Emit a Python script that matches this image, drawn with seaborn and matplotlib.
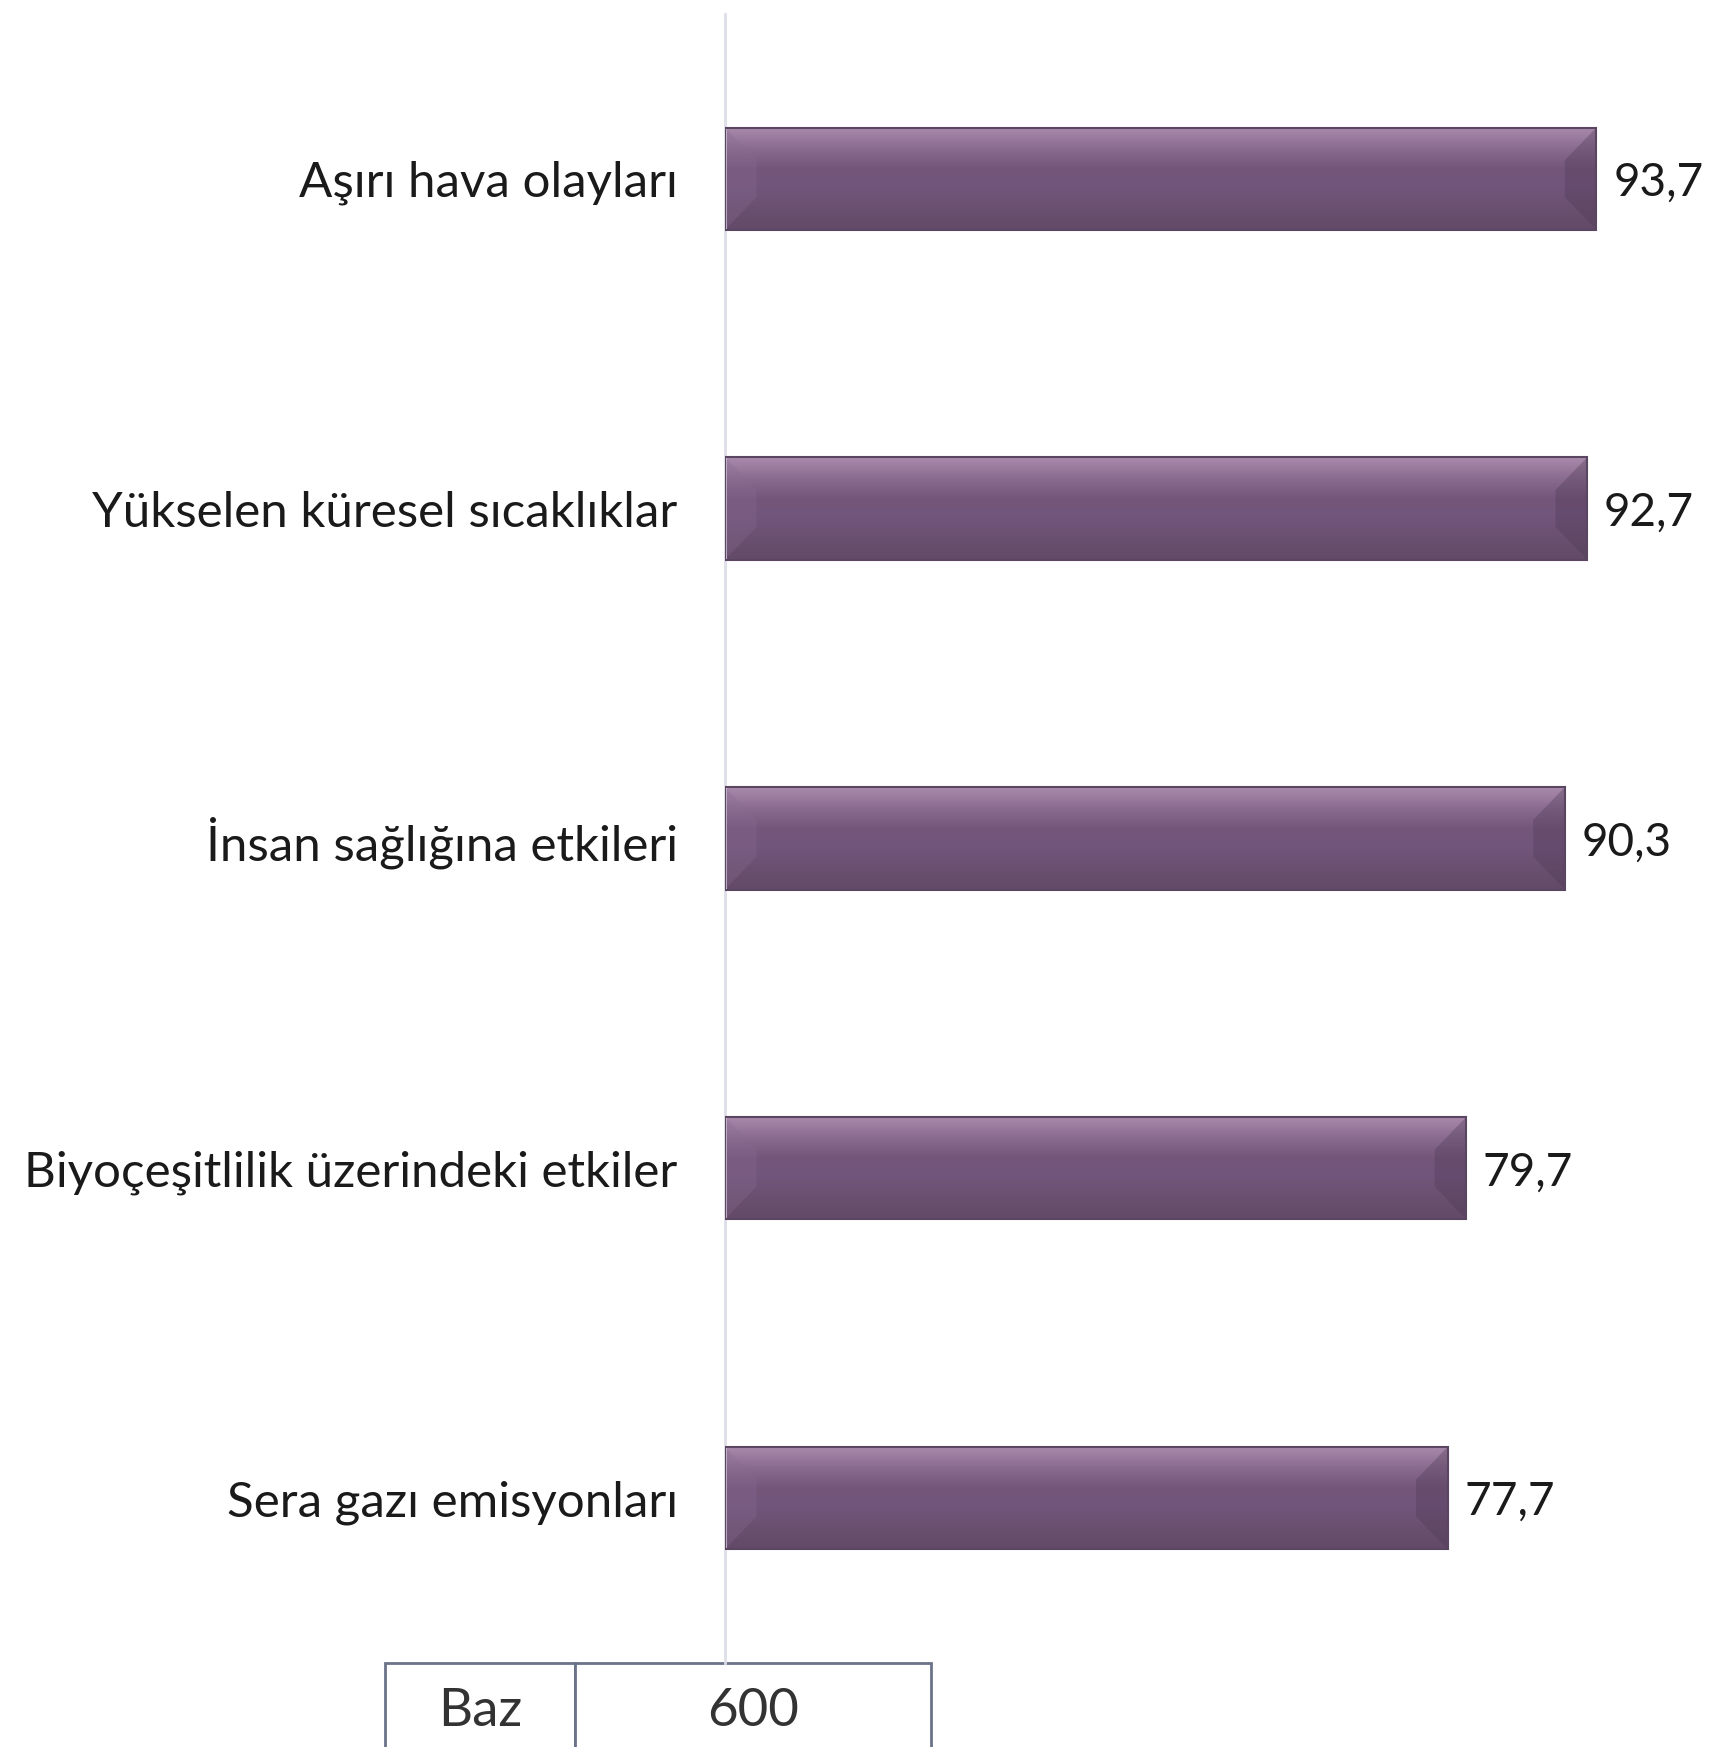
#!/usr/bin/env python3
""" Horizontal bar chart: perceived climate change effects """

import numpy as np
import pandas as pd
import matplotlib
matplotlib.use('Agg')
import matplotlib.pyplot as plt
from matplotlib.patches import Polygon
import seaborn as sns

categories = [
  'Aşırı hava olayları',
  'Yükselen küresel sıcaklıklar',
  'İnsan sağlığına etkileri',
  'Biyoçeşitlilik üzerindeki etkiler',
  'Sera gazı emisyonları',
]
values = [93.7, 92.7, 90.3, 79.7, 77.7]
base_label = 'Baz'
base_value = '600'

FONT = ['Lato', 'DejaVu Sans']
TEXT_COLOR = '#1a1a1a'
BAR_COLOR = '#72557a'
EDGE_COLOR = '#5a4660'


def shade_bars(ax, bars):
  """ Give each bar a vertical gradient and bevelled ends """
  grad = np.linspace(0, 1, 64).reshape(-1, 1)
  cmap = matplotlib.colors.LinearSegmentedColormap.from_list(
    'bar', ['#a98aad', '#8a6c90', '#74567b', '#72557a', '#6a5070', '#624a68'])
  for patch in bars:
    x0, y0 = patch.get_x(), patch.get_y()
    w, h = patch.get_width(), patch.get_height()
    im = ax.imshow(grad, cmap=cmap, aspect='auto', origin='upper',
                   extent=(x0, x0 + w, y0 + h, y0), zorder=2)
    im.set_clip_path(patch)
    # bevel size in data units (~ a third of the bar height in pixels)
    bx = 3.4
    by = h * 0.32
    left = Polygon([(x0, y0), (x0 + bx, y0 + by), (x0 + bx, y0 + h - by), (x0, y0 + h)],
                   closed=True, facecolor='#8a6c92', alpha=0.3, lw=0, zorder=3)
    right = Polygon([(x0 + w, y0), (x0 + w - bx, y0 + by), (x0 + w - bx, y0 + h - by), (x0 + w, y0 + h)],
                    closed=True, facecolor='#4e3a55', alpha=0.35, lw=0, zorder=3)
    ax.add_patch(left)
    ax.add_patch(right)
    patch.set_facecolor('none')
    patch.set_edgecolor(EDGE_COLOR)
    patch.set_linewidth(1.5)
    patch.set_zorder(4)


def main():
  sns.set_style('white')
  plt.rcParams['font.family'] = FONT

  data = pd.DataFrame({'Etki': categories, 'Değer': values})

  fig = plt.figure(figsize=(17.09, 17.47), dpi=100)
  ax = fig.add_axes([0.4242, 0.0481, 0.5442, 0.944])

  sns.barplot(data=data, x='Değer', y='Etki', orient='h', color=BAR_COLOR,
              width=0.31, ax=ax)
  bars = list(ax.patches)
  shade_bars(ax, bars)

  ax.set_xlim(0, 100)
  ax.set_ylim(len(categories) - 0.5, -0.5)
  ax.set_xlabel('')
  ax.set_ylabel('')
  ax.set_xticks([])
  ax.tick_params(axis='y', length=0, pad=34, labelsize=35.5, labelcolor=TEXT_COLOR)
  for side in ['top', 'right', 'bottom']:
    ax.spines[side].set_visible(False)
  ax.spines['left'].set_color('#dedee8')
  ax.spines['left'].set_linewidth(2)

  # Value labels with Turkish decimal comma
  for patch, val in zip(bars, values):
    ax.text(patch.get_x() + patch.get_width() + 1.8, patch.get_y() + patch.get_height() / 2,
            f'{val:.1f}'.replace('.', ','), va='center_baseline', ha='left',
            fontsize=33, color=TEXT_COLOR, zorder=5)

  # Base table below the chart
  tbl = ax.table(cellText=[[base_label, base_value]], cellLoc='center',
                 bbox=[-0.3656, -0.059, 0.5871, 0.059], colWidths=[0.2043, 0.3828])
  tbl.auto_set_font_size(False)
  for cell in tbl.get_celld().values():
    cell.set_edgecolor('#6b7389')
    cell.set_linewidth(2)
    cell.get_text().set_fontsize(38)
    cell.get_text().set_color('#333333')
    cell.get_text().set_fontfamily(FONT)

  fig.savefig('out.png', dpi=100, facecolor='white')


if __name__ == '__main__':
  main()
